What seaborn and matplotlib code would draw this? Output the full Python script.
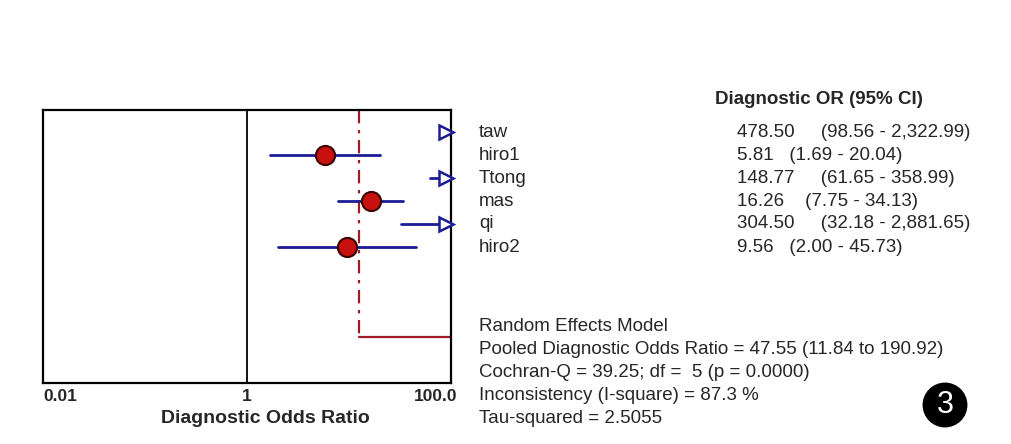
import numpy as np
import pandas as pd
import matplotlib.pyplot as plt
import seaborn as sns
from matplotlib.transforms import ScaledTranslation

# Datos del forest plot (Meta-DiSc, DOR)
studies = ['taw', 'hiro1', 'Ttong', 'mas', 'qi', 'hiro2']
dor = [478.50, 5.81, 148.77, 16.26, 304.50, 9.56]
ci_lo = [98.56, 1.69, 61.65, 7.75, 32.18, 2.00]
ci_hi = [2322.99, 20.04, 358.99, 34.13, 2881.65, 45.73]

x_ticks = [0.01, 1, 100]
x_ticklabels = ['0.01', '1', '100.0']
pooled_line = 12.6  # posicion de la linea vertical

summary_lines = [
    'Random Effects Model',
    'Pooled Diagnostic Odds Ratio = 47.55 (11.84 to 190.92)',
    'Cochran-Q = 39.25; df =  5 (p = 0.0000)',
    'Inconsistency (I-square) = 87.3 %',
    'Tau-squared = 2.5055',
]

df = pd.DataFrame({'study': studies, 'dor': dor, 'lo': ci_lo, 'hi': ci_hi})
df['row'] = np.arange(len(df))

sns.set_style('white')
plt.rcParams['font.family'] = ['Liberation Sans', 'DejaVu Sans']

W, H = 1011, 444
fig = plt.figure(figsize=(W / 100, H / 100), dpi=100)


def px(x, y):
    return x / W, 1 - y / H


ax = fig.add_axes([43 / W, 1 - 383 / H, (451 - 43) / W, (383 - 110) / H])
ax.set_xscale('log')
xmin, xmax = 0.01, 100
ax.set_xlim(xmin, xmax)
ax.set_ylim(10.91, -0.957)

blue = '#1c1c96'
arrow_x = xmax / 10 ** 0.05
# intervalos de confianza
for _, r in df.iterrows():
    lo = max(r['lo'], xmin)
    hi = min(r['hi'], xmax)
    if r['dor'] > xmax:
        # punto fuera de rango -> flecha abierta
        ax.plot([lo, arrow_x], [r['row'], r['row']], color=blue, lw=2, zorder=2)
        ax.plot([arrow_x], [r['row']], marker='>', ms=9.5, mfc='white',
                mec=blue, mew=1.8, zorder=3, clip_on=False)
    else:
        ax.plot([lo, hi], [r['row'], r['row']], color=blue, lw=2, zorder=2)

inside = df[df['dor'] <= xmax]
sns.scatterplot(data=inside, x='dor', y='row', ax=ax, s=190, color='#c8100e',
                edgecolor='#3a0000', linewidth=1.5, zorder=4, legend=False)

# linea vertical en 1
ax.axvline(1, color='black', lw=1.3, zorder=1)
# linea del estimador combinado
ax.plot([pooled_line, pooled_line], [-0.957, 8.9], color='#a01b24', lw=1.6,
        ls=(0, (6, 3, 1.5, 3)), zorder=1)
ax.plot([pooled_line, xmax], [8.9, 8.9], color='#a01b24', lw=1.6, zorder=1)

for s in ax.spines.values():
    s.set_color('black')
    s.set_linewidth(1.6)

ax.set_yticks([])
ax.set_ylabel('')
ax.set_xticks(x_ticks)
ax.set_xticklabels(x_ticklabels, fontsize=12.5, fontweight='bold')
ax.xaxis.set_minor_locator(plt.NullLocator())
ax.tick_params(axis='x', length=0, pad=4)
labels = ax.get_xticklabels()
labels[0].set_ha('left')
labels[-1].set_ha('right')
labels[-1].set_transform(labels[-1].get_transform() + ScaledTranslation(6 / 100, 0, fig.dpi_scale_trans))
ax.set_xlabel('')
fig.text(*px(265, 418), 'Diagnostic Odds Ratio', fontsize=14, fontweight='bold',
         ha='center', va='center')

# tabla de la derecha
fs = 13.5
fig.text(*px(715, 100), 'Diagnostic OR (95% CI)', fontsize=13.5, fontweight='bold',
         ha='left', va='center')
for i, r in df.iterrows():
    y = 132 + 23 * i
    fig.text(*px(479, y), r['study'], fontsize=fs, ha='left', va='center')
    val = f"{r['dor']:.2f}"
    txt = val + ' ' * (len(val) - 1) + f"({r['lo']:.2f} - {r['hi']:,.2f})"
    fig.text(*px(737, y), txt, fontsize=fs, ha='left', va='center')

for i, line in enumerate(summary_lines):
    fig.text(*px(479, 326 + 23 * i), line, fontsize=fs, ha='left', va='center')

# numero de figura
fig.text(*px(945, 405), '3', fontsize=22, color='white', ha='center', va='center',
         bbox=dict(boxstyle='circle,pad=0.22', fc='black', ec='black'))

fig.savefig('out.png', dpi=100)
